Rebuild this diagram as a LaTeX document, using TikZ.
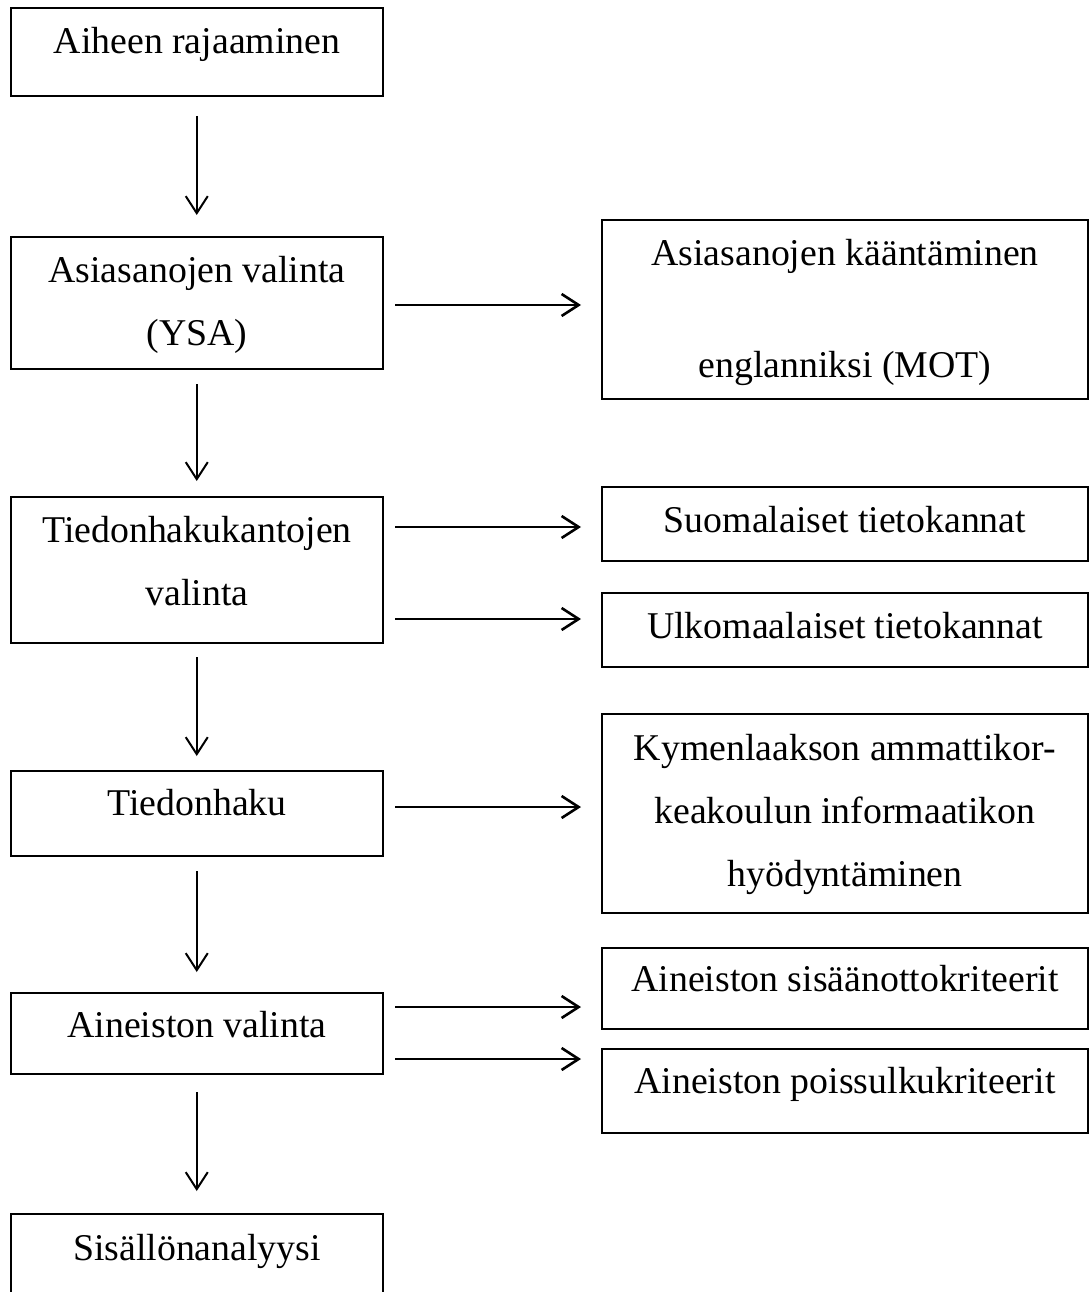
\documentclass[tikz,border=0pt]{standalone}
\usepackage{fontspec}
\setmainfont{Liberation Serif}
\usetikzlibrary{arrows.meta}
\begin{document}
\begin{tikzpicture}[x=1pt,y=-1pt,
  box/.style={draw, line width=2pt, inner sep=0pt, minimum width=#1},
  lbox/.style={box=372.5pt},
  rbox/.style={box=486pt},
  txt/.style={anchor=base, inner sep=0pt, font=\fontsize{37.8}{45}\selectfont},
  varrow/.style={line width=2pt, -{Straight Barb[length=17pt,width=22pt]}},
  harrow/.style={line width=2.6pt, -{Straight Barb[length=17pt,width=22pt]}, shorten <=11pt, shorten >=20pt}]
\useasboundingbox (0,0) rectangle (1090,1292);
\clip (0,0) rectangle (1090,1292);
% left column boxes
\node[lbox, minimum height=88pt]  (b1) at (196.75,52) {};
\node[lbox, minimum height=132pt] (b2) at (196.75,303) {};
\node[lbox, minimum height=146pt] (b3) at (196.75,570) {};
\node[lbox, minimum height=85pt]  (b4) at (196.75,813.5) {};
\node[lbox, minimum height=81pt]  (b5) at (196.75,1033.5) {};
\node[lbox, minimum height=86pt]  (b6) at (196.75,1257) {};
% right column boxes
\node[rbox, minimum height=179pt] (r1) at (845,309.5) {};
\node[rbox, minimum height=74pt]  (r2) at (845,524) {};
\node[rbox, minimum height=74pt]  (r3) at (845,630) {};
\node[rbox, minimum height=199pt] (r4) at (845,813.5) {};
\node[rbox, minimum height=81pt]  (r5) at (845,988.5) {};
\node[rbox, minimum height=84pt]  (r6) at (845,1091) {};
% texts
\node[txt] (t1)  at (197,54)   {Aiheen rajaaminen};
\node[txt] (t2a) at (197,282)  {Asiasanojen valinta};
\node[txt] (t2b) at (197,345)  {(YSA)};
\node[txt] (t3a) at (197,542)  {Tiedonhakukantojen};
\node[txt] (t3b) at (197,605)  {valinta};
\node[txt] (t4)  at (197,815)  {Tiedonhaku};
\node[txt] (t5)  at (197,1037) {Aineiston valinta};
\node[txt] (t6)  at (197,1260) {Sisällönanalyysi};
\node[txt] (r1a) at (845,265)  {Asiasanojen kääntäminen};
\node[txt] (r1b) at (845,377)  {englanniksi (MOT)};
\node[txt] (r2t) at (845,532)  {Suomalaiset tietokannat};
\node[txt] (r3t) at (845,638)  {Ulkomaalaiset tietokannat};
\node[txt] (r4a) at (845,760)  {Kymenlaakson ammattikor-};
\node[txt] (r4b) at (845,823)  {keakoulun informaatikon};
\node[txt] (r4c) at (845,886)  {hyödyntäminen};
\node[txt] (r5t) at (845,991)  {Aineiston sisäänottokriteerit};
\node[txt] (r6t) at (845,1093) {Aineiston poissulkukriteerit};
% vertical arrows
\draw[varrow, shorten <=19pt, shorten >=21pt] (b1) -- (b2);
\draw[varrow, shorten <=14pt, shorten >=15pt] (b2) -- (b3);
\draw[varrow, shorten <=13pt, shorten >=14pt] (b3) -- (b4);
\draw[varrow, shorten <=14pt, shorten >=20pt] (b4) -- (b5);
\draw[varrow, shorten <=17pt, shorten >=22pt] (b5) -- (b6);
% horizontal arrows
\draw[harrow] (b2.east |- 0,305)  -- (r1.west |- 0,305);
\draw[harrow] (b3.east |- 0,527)  -- (r2.west |- 0,527);
\draw[harrow] (b3.east |- 0,619)  -- (r3.west |- 0,619);
\draw[harrow] (b4.east |- 0,807)  -- (r4.west |- 0,807);
\draw[harrow] (b5.east |- 0,1007) -- (r5.west |- 0,1007);
\draw[harrow] (b5.east |- 0,1059) -- (r6.west |- 0,1059);
\end{tikzpicture}
\end{document}
